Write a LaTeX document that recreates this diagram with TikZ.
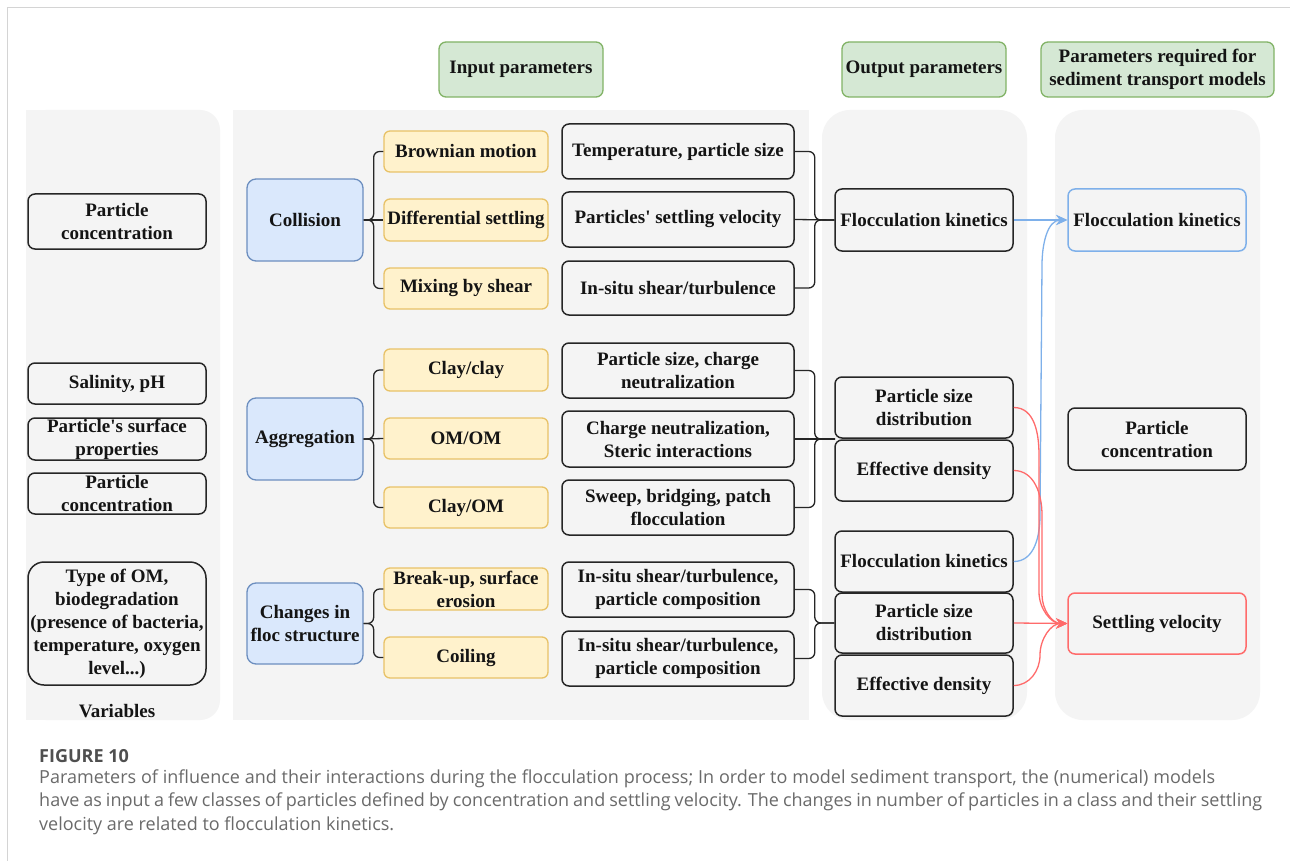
\documentclass[tikz,border=0pt]{standalone}
\usepackage{fontspec}
\setmainfont{Liberation Serif}
\newfontfamily\capfont{Open Sans}
\usetikzlibrary{arrows.meta,calc}
\definecolor{panelgray}{HTML}{F4F4F4}
\definecolor{frameline}{HTML}{D4D4D4}
\definecolor{boxline}{HTML}{262626}
\definecolor{greenfill}{HTML}{D5E8D4}
\definecolor{greenline}{HTML}{82B366}
\definecolor{bluefill}{HTML}{DAE8FC}
\definecolor{blueline}{HTML}{6C8EBF}
\definecolor{yellowfill}{HTML}{FFF2CC}
\definecolor{yellowline}{HTML}{E8C267}
\definecolor{arrowblue}{HTML}{7EB0EA}
\definecolor{arrowred}{HTML}{FF6B6B}
\definecolor{captext}{HTML}{6A6A6A}
\definecolor{capfig}{HTML}{4F4F4F}
\begin{document}
\begin{tikzpicture}[x=1pt,y=-1pt,
  every node/.style={font=\fontsize{19}{23}\selectfont\bfseries, align=center, inner sep=0pt, text=black!92},
  panelbox/.style={fill=panelgray, draw=none},
  headbox/.style={draw=greenline, fill=greenfill, line width=1.3pt, rounded corners=7pt, minimum height=55pt},
  plainbox/.style={draw=boxline, line width=1.5pt, rounded corners=7pt},
  lbox/.style={plainbox, minimum width=178pt},
  bluebox/.style={draw=blueline, fill=bluefill, line width=1.3pt, rounded corners=9pt, minimum width=116pt, minimum height=82pt},
  yelbox/.style={draw=yellowline, fill=yellowfill, line width=1.3pt, rounded corners=6pt, minimum width=164pt, minimum height=41pt},
  kbox/.style={plainbox, minimum width=232pt, minimum height=55pt},
  obox/.style={plainbox, minimum width=178pt, minimum height=61pt},
  conn/.style={draw=boxline, line width=1.3pt, rounded corners=6pt},
  bluearr/.style={draw=arrowblue, line width=1.3pt, -{Stealth[length=11pt,width=10pt]}},
  redarr/.style={draw=arrowred, line width=1.3pt, -{Stealth[length=11pt,width=10pt]}},
  captxt/.style={font=\capfont\fontsize{18}{23}\selectfont, text=captext, anchor=base west, align=left}
]
\useasboundingbox (0,0) rectangle (1290,861);
\fill[white] (0,0) rectangle (1290,861);
% page frame
\draw[frameline, line width=1.2pt] (7.5,861) -- (7.5,7.5) -- (1290,7.5);

% background panels
\path[panelbox, rounded corners=20pt] (26,110) rectangle (220,720);
\path[panelbox] (26,110) rectangle (120,720);
\path[panelbox] (233,110) rectangle (809,720);
\path[panelbox, rounded corners=28pt] (822,110) rectangle (1027,720);
\path[panelbox, rounded corners=28pt] (1055,110) rectangle (1260,720);

% headers
\node[headbox, minimum width=164pt] (hin) at (521,69.5) {Input parameters};
\node[headbox, minimum width=164pt] (hout) at (924,69.5) {Output parameters};
\node[headbox, minimum width=233pt] (hreq) at (1157.5,69.5) {Parameters required for\\sediment transport models};

% left column: variables
\node[lbox, minimum height=55pt] (lpc1) at (117,221.5) {Particle\\concentration};
\node[lbox, minimum height=41pt] (sal) at (117,383.5) {Salinity, pH};
\node[lbox, minimum height=42pt] (surf) at (117,439) {Particle\textquotesingle s surface\\properties};
\node[lbox, minimum height=41pt] (lpc2) at (117,493.5) {Particle\\concentration};
\node[lbox, minimum height=123pt, rounded corners=16pt] (omtype) at (117,623.5) {Type of OM,\\biodegradation\\(presence of bacteria,\\temperature, oxygen\\level...)};
\node (varlab) at (117,711) {Variables};

% processes
\node[bluebox] (coll) at (305,220) {Collision};
\node[bluebox] (agg) at (305,439) {Aggregation};
\node[bluebox, minimum height=81pt] (chg) at (305,623.5) {Changes in\\floc structure};

% mechanisms
\node[yelbox] (brown) at (466,151.5) {Brownian motion};
\node[yelbox, minimum height=42pt] (diff) at (466,220) {Differential settling};
\node[yelbox] (mix) at (466,288.5) {Mixing by shear};
\node[yelbox, minimum height=42pt] (cc) at (466,370) {Clay/clay};
\node[yelbox] (omom) at (466,438.5) {OM/OM};
\node[yelbox] (com) at (466,507.5) {Clay/OM};
\node[yelbox, minimum height=42pt] (brk) at (466,589) {Break-up, surface\\erosion};
\node[yelbox] (coil) at (466,657.5) {Coiling};

% input parameters
\node[kbox] (t1) at (678,151.5) {Temperature, particle size};
\node[kbox] (t2) at (678,219.5) {Particles\textquotesingle{} settling velocity};
\node[kbox, minimum height=54pt] (t3) at (678,288) {In-situ shear/turbulence};
\node[kbox] (a1) at (678,370.5) {Particle size, charge\\neutralization};
\node[kbox, minimum height=56pt] (a2) at (678,439) {Charge neutralization,\\Steric interactions};
\node[kbox] (a3) at (678,507.5) {Sweep, bridging, patch\\flocculation};
\node[kbox] (f1) at (678,589.5) {In-situ shear/turbulence,\\particle composition};
\node[kbox] (f2) at (678,658.5) {In-situ shear/turbulence,\\particle composition};

% output parameters
\node[obox, minimum height=62pt] (ofk1) at (924,220) {Flocculation kinetics};
\node[obox] (opsd1) at (924,407.5) {Particle size\\distribution};
\node[obox] (oed1) at (924,470.5) {Effective density};
\node[obox] (ofk2) at (924,561.5) {Flocculation kinetics};
\node[obox, minimum height=60pt] (opsd2) at (924,623) {Particle size\\distribution};
\node[obox] (oed2) at (924,685.5) {Effective density};

% parameters for sediment transport models
\node[obox, minimum height=62pt, draw=arrowblue] (rfk) at (1157,220) {Flocculation kinetics};
\node[obox, minimum height=62pt] (rpc) at (1157,439) {Particle\\concentration};
\node[obox, draw=arrowred] (rsv) at (1157,623.5) {Settling velocity};

% junction between the two aggregation outputs
\coordinate (aggj) at (835,439);

% brackets: processes -> mechanisms
\draw[conn] (coll.east) -- ++(10,0) |- (brown.west);
\draw[conn] (coll.east) -- (diff.west);
\draw[conn] (coll.east) -- ++(10,0) |- (mix.west);
\draw[conn] (agg.east) -- ++(10,0) |- (cc.west);
\draw[conn] (agg.east) -- (omom.west);
\draw[conn] (agg.east) -- ++(10,0) |- (com.west);
\draw[conn] (chg.east) -- ++(10,0) |- (brk.west);
\draw[conn] (chg.east) -- ++(10,0) |- (coil.west);

% brackets: input parameters -> outputs
\draw[conn] (t1.east) -- ++(20,0) |- (ofk1.west);
\draw[conn] (t2.east) -- (ofk1.west);
\draw[conn] (t3.east) -- ++(20,0) |- (ofk1.west);
\draw[conn] (a1.east) -- ++(20,0) |- (aggj);
\draw[conn] (a2.east) -- (aggj);
\draw[conn] (a3.east) -- ++(20,0) |- (aggj);
\draw[conn] (f1.east) -- ++(20,0) |- (opsd2.west);
\draw[conn] (f2.east) -- ++(20,0) |- (opsd2.west);

% outputs -> model parameters
\draw[bluearr] (ofk1.east) -- (rfk.west);
\draw[bluearr] (ofk2.east) to[out=0,in=-90] (1040,515) -- (1042,265) to[out=90,in=180] (rfk.west);
\draw[redarr] (opsd1.east) to[out=0,in=90] (1039,455) -- (1039,592) to[out=-90,in=180] (rsv.west);
\draw[redarr] (oed1.east) to[out=0,in=90] (1042,515) -- (1042,595) to[out=-90,in=180] (rsv.west);
\draw[redarr] (opsd2.east) -- (rsv.west);
\draw[redarr] (oed2.east) to[out=0,in=-90] (1040,655) to[out=90,in=180] (rsv.west);

% caption
\node[captxt, font=\capfont\fontsize{18}{23}\selectfont\bfseries, text=capfig] (capfig) at (39,762) {FIGURE 10};
\node[captxt] (cap1) at (39,783) {\hbox to 1176pt{Parameters of influence and their interactions during the flocculation process; In order to model sediment transport, the (numerical) models}};
\node[captxt] (cap2) at (39,806.5) {\hbox to 1223pt{have as input a few classes of particles defined by concentration and settling velocity. The changes in number of particles in a class and their settling}};
\node[captxt] (cap3) at (39,830) {velocity are related to flocculation kinetics.};
\end{tikzpicture}
\end{document}
